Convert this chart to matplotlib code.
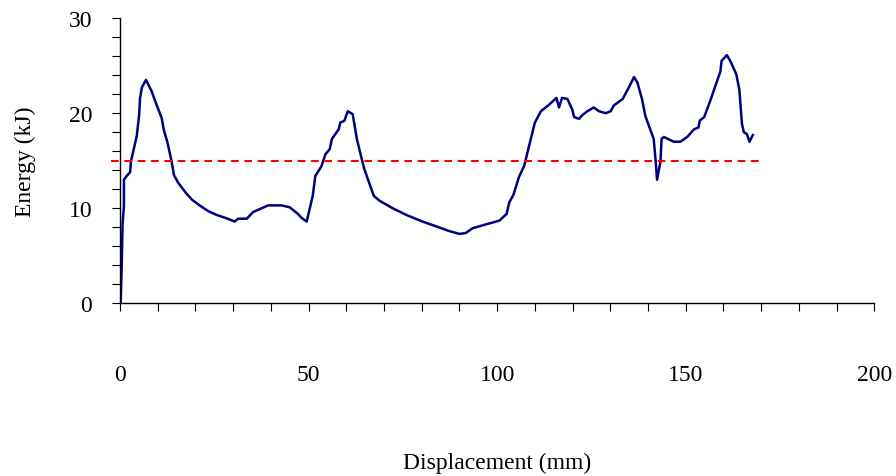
"""
Energy vs displacement curve with a 15 kJ reference line
"""

import matplotlib.pyplot as plt
from matplotlib.ticker import MultipleLocator

# ============ data ============
disp_mm = [0.0, 0.2, 0.44, 0.7, 1.05, 1.05, 1.8, 2.7, 2.9, 4.45, 5.1, 5.3, 5.8, 6.9,
           8.4, 9.3, 11.05, 11.65, 12.6, 13.7, 14.3, 15.4, 17.5, 19.1, 21.1, 23.4,
           25.6, 28.6, 30.4, 31.3, 33.6, 35.3, 37.0, 39.3, 42.8, 45.0, 47.2, 48.1,
           49.5, 51.1, 51.8, 53.4, 54.5, 55.6, 56.2, 58.0, 58.4, 59.5, 60.4, 61.7,
           62.8, 63.9, 64.8, 67.3, 68.8, 72.3, 75.9, 80.2, 83.8, 87.3, 90.0, 91.7,
           93.5, 97.0, 100.6, 102.5, 103.2, 104.3, 105.8, 107.2, 108.5, 110.0, 111.6,
           113.8, 115.7, 116.4, 117.2, 118.6, 119.9, 120.4, 121.7, 122.6, 123.9,
           125.6, 127.0, 128.8, 130.1, 130.9, 133.3, 134.9, 136.3, 137.2, 138.4,
           139.3, 141.5, 142.0, 142.4, 143.3, 143.6, 144.2, 146.8, 148.6, 150.4,
           152.2, 153.4, 153.7, 154.9, 156.5, 157.8, 159.2, 159.5, 160.9, 161.8,
           163.4, 164.2, 164.9, 165.4, 166.2, 166.9, 167.8]
energy_kj = [0.0, 0.1, 3.7, 8.5, 10.2, 13.0, 13.4, 13.8, 14.9, 17.6, 19.9, 21.5, 22.7, 23.5,
             22.3, 21.3, 19.5, 18.2, 16.9, 14.9, 13.5, 12.7, 11.6, 10.9, 10.3, 9.7,
             9.3, 8.9, 8.6, 8.9, 8.9, 9.6, 9.9, 10.3, 10.3, 10.1, 9.4, 9.0,
             8.6, 11.3, 13.4, 14.4, 15.7, 16.2, 17.3, 18.3, 19.0, 19.2, 20.2, 19.9,
             17.3, 15.5, 14.1, 11.3, 10.8, 10.0, 9.3, 8.6, 8.1, 7.6, 7.3, 7.4,
             7.9, 8.3, 8.7, 9.4, 10.6, 11.4, 13.3, 14.5, 16.6, 19.0, 20.2,
             20.9, 21.6, 20.6, 21.6, 21.5, 20.4, 19.6, 19.4, 19.8, 20.2,
             20.6, 20.2, 20.0, 20.2, 20.8, 21.5, 22.7, 23.8, 23.2, 21.5,
             19.7, 17.3, 15.1, 13.0, 14.9, 17.3, 17.5, 17.0, 17.0, 17.5,
             18.3, 18.5, 19.2, 19.6, 21.3, 22.8, 24.4, 25.5, 26.1, 25.5,
             24.1, 22.5, 18.9, 18.0, 17.8, 17.0, 17.7]

threshold_x = [-2.3, 170.0]
threshold_y = [15.0, 15.0]

# ============ figure ============
plt.rcParams['font.family'] = ['Liberation Serif', 'DejaVu Serif']

fig = plt.figure(figsize=(8.96, 4.77), dpi=100)
ax = fig.add_axes([0.1339, 0.362, 0.8419, 0.598])

ax.plot(disp_mm, energy_kj, color='#000080', lw=1.8)
ax.plot(threshold_x, threshold_y, color='#ff0000', lw=1.5,
        dashes=(3.7, 2.7), clip_on=False)

ax.set_xlim(0, 200)
ax.set_ylim(0, 30)
ax.xaxis.set_major_locator(MultipleLocator(50))
ax.xaxis.set_minor_locator(MultipleLocator(10))
ax.yaxis.set_major_locator(MultipleLocator(10))
ax.yaxis.set_minor_locator(MultipleLocator(2))

for side in ('top', 'right'):
    ax.spines[side].set_visible(False)
for side in ('left', 'bottom'):
    ax.spines[side].set_linewidth(1.0)

ax.tick_params(axis='x', which='both', direction='out', length=6, width=0.8,
               pad=38, labelsize=17)
ax.tick_params(axis='y', which='both', direction='out', length=6, width=0.8,
               pad=14, labelsize=17)

ax.set_xlabel('Displacement (mm)', fontsize=17, va='center')
ax.set_ylabel('Energy (kJ)', fontsize=17, va='center')
ax.xaxis.set_label_coords(0.5, -0.556)
ax.yaxis.set_label_coords(-0.125, 0.5)

plt.savefig('out.png', dpi=100)
